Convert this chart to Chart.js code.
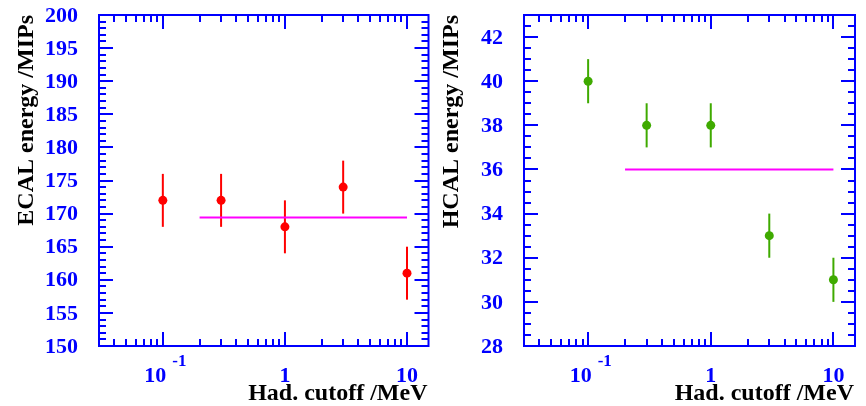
<!DOCTYPE html>
<html>
<head>
<meta charset="utf-8">
<script src="https://cdn.jsdelivr.net/npm/chart.js@4/dist/chart.umd.min.js"></script>
<style>
  html, body { margin: 0; padding: 0; background: #ffffff; }
  #wrap { position: relative; width: 866px; height: 406px; overflow: hidden; }
  #wrap canvas { position: absolute; top: 0; }
</style>
</head>
<body>
<div id="wrap">
  <canvas id="ecal" width="433" height="406" style="left:0px"></canvas>
  <canvas id="hcal" width="433" height="406" style="left:433px"></canvas>
</div>
<script>
// Hadronic cutoff values (MeV)
const cutoffs = [0.1, 0.3, 1, 3, 10];

// Mean ECAL energy and its uncertainty (MIPs)
const ecalEnergy = [172, 172, 168, 174, 161];
const ecalError  = [4, 4, 4, 4, 4];
const ecalFit    = 169.4;

// Mean HCAL energy and its uncertainty (MIPs)
const hcalEnergy = [40, 38, 38, 33, 31];
const hcalError  = [1, 1, 1, 1, 1];
const hcalFit    = 36;

// Constant fit spans this cutoff range
const fitRange = [0.2, 10];

// Axis settings
const xRange = [0.03, 15];
const xTickValues = [0.1, 1, 10];
const xTickLabels = [['10', '-1'], ['1', ''], ['10', '']];
const ecalYTicks = [150, 155, 160, 165, 170, 175, 180, 185, 190, 195, 200];
const hcalYTicks = [28, 30, 32, 34, 36, 38, 40, 42];

const AXIS_BLUE = '#0000ff';
const SERIF = '"Liberation Serif", "Times New Roman", serif';

// Draws error bars, the inward-ticked frame, axis labels and axis titles
const framePlugin = {
  id: 'rootFrame',
  beforeDatasetsDraw(chart) {
    const { ctx } = chart;
    const xs = chart.scales.x, ys = chart.scales.y;
    const ds = chart.data.datasets[0];
    ctx.save();
    ctx.strokeStyle = ds.barColor;
    ctx.lineWidth = 2;
    ds.data.forEach((p, i) => {
      const err = ds.errorBars[i];
      const px = xs.getPixelForValue(p.x);
      ctx.beginPath();
      ctx.moveTo(px, ys.getPixelForValue(p.y - err));
      ctx.lineTo(px, ys.getPixelForValue(p.y + err));
      ctx.stroke();
    });
    ctx.restore();
  },
  afterDraw(chart, args, o) {
    const { ctx, chartArea: a } = chart;
    const xs = chart.scales.x, ys = chart.scales.y;
    ctx.save();
    ctx.strokeStyle = AXIS_BLUE;
    ctx.lineWidth = 2;

    // frame
    ctx.strokeRect(a.left, a.top, a.right - a.left, a.bottom - a.top);

    // y ticks, left and right sides
    ctx.beginPath();
    const n = Math.round((ys.max - ys.min) / o.yMinor);
    for (let k = 0; k <= n; k++) {
      const v = ys.min + k * o.yMinor;
      const r = (v - ys.min) / o.yMajor;
      const isMajor = Math.abs(r - Math.round(r)) < 1e-6;
      const len = isMajor ? 14 : 7;
      const py = Math.round(ys.getPixelForValue(v));
      ctx.moveTo(a.left, py); ctx.lineTo(a.left + len, py);
      ctx.moveTo(a.right, py); ctx.lineTo(a.right - len, py);
    }
    // x ticks (log), bottom and top sides
    for (let d = -2; d <= 1; d++) {
      for (let m = 1; m <= 9; m++) {
        const v = m * Math.pow(10, d);
        if (v <= xs.min * 1.0001 || v >= xs.max * 0.9999) continue;
        const len = m === 1 ? 14 : 7;
        const px = Math.round(xs.getPixelForValue(v));
        ctx.moveTo(px, a.bottom); ctx.lineTo(px, a.bottom - len);
        ctx.moveTo(px, a.top); ctx.lineTo(px, a.top + len);
      }
    }
    ctx.stroke();

    ctx.fillStyle = AXIS_BLUE;

    // y tick labels
    ctx.font = 'bold 22px ' + SERIF;
    ctx.textAlign = 'right';
    ctx.textBaseline = 'middle';
    o.yTicks.forEach(v => {
      ctx.fillText(String(v), a.left - 21, ys.getPixelForValue(v) + 1);
    });

    // x tick labels with optional exponent
    ctx.textBaseline = 'alphabetic';
    xTickValues.forEach((v, i) => {
      const px = xs.getPixelForValue(v);
      const [base, sup] = xTickLabels[i];
      ctx.font = 'bold 22px ' + SERIF;
      if (sup) {
        ctx.textAlign = 'right';
        ctx.fillText(base, px + 3.5, a.bottom + 36);
        ctx.font = 'bold 17px ' + SERIF;
        ctx.textAlign = 'left';
        ctx.fillText(sup, px + 9.5, a.bottom + 20);
      } else {
        ctx.textAlign = 'center';
        ctx.fillText(base, px, a.bottom + 36);
      }
    });

    // axis titles
    ctx.fillStyle = '#000000';
    ctx.font = 'bold 24px ' + SERIF;
    ctx.textAlign = 'right';
    ctx.fillText(o.xTitle, a.right - 1, a.bottom + 54);
    ctx.translate(a.left - 66, a.top);
    ctx.rotate(-Math.PI / 2);
    ctx.fillText(o.yTitle, 0, 0);
    ctx.restore();
  }
};

function makePanel(id, cfg) {
  const points = cutoffs.map((c, i) => ({ x: c, y: cfg.values[i] }));
  return new Chart(document.getElementById(id), {
    type: 'scatter',
    data: {
      datasets: [
        {
          data: points,
          errorBars: cfg.errors,
          barColor: cfg.color,
          backgroundColor: cfg.color,
          borderWidth: 0,
          pointRadius: 4.5,
          pointStyle: 'circle',
          showLine: false
        },
        {
          type: 'line',
          data: fitRange.map(x => ({ x: x, y: cfg.fit })),
          borderColor: '#ff00ff',
          borderWidth: 2,
          pointRadius: 0,
          fill: false
        }
      ]
    },
    options: {
      responsive: false,
      animation: false,
      devicePixelRatio: 1,
      layout: { padding: { top: 15, right: cfg.padRight, bottom: 0, left: 0 } },
      plugins: {
        legend: { display: false },
        tooltip: { enabled: false },
        rootFrame: {
          yMinor: cfg.yMinor, yMajor: cfg.yMajor, yTicks: cfg.yTicks,
          xTitle: 'Had. cutoff /MeV', yTitle: cfg.yTitle
        }
      },
      scales: {
        x: {
          type: 'logarithmic',
          min: xRange[0], max: xRange[1],
          grid: { display: false, drawTicks: false },
          border: { display: false },
          ticks: { display: false },
          afterFit: s => { s.height = 60; }
        },
        y: {
          type: 'linear',
          min: cfg.yMin, max: cfg.yMax,
          grid: { display: false, drawTicks: false },
          border: { display: false },
          ticks: { display: false },
          afterFit: s => { s.width = cfg.yWidth; }
        }
      }
    },
    plugins: [framePlugin]
  });
}

makePanel('ecal', {
  values: ecalEnergy, errors: ecalError, fit: ecalFit, color: '#ff0000',
  yMin: 150, yMax: 200, yTicks: ecalYTicks, yMinor: 1, yMajor: 5,
  yTitle: 'ECAL energy /MIPs', yWidth: 99, padRight: 3
});

makePanel('hcal', {
  values: hcalEnergy, errors: hcalError, fit: hcalFit, color: '#3faa00',
  yMin: 28, yMax: 43, yTicks: hcalYTicks, yMinor: 0.5, yMajor: 2,
  yTitle: 'HCAL energy /MIPs', yWidth: 91, padRight: 11
});
</script>
</body>
</html>
